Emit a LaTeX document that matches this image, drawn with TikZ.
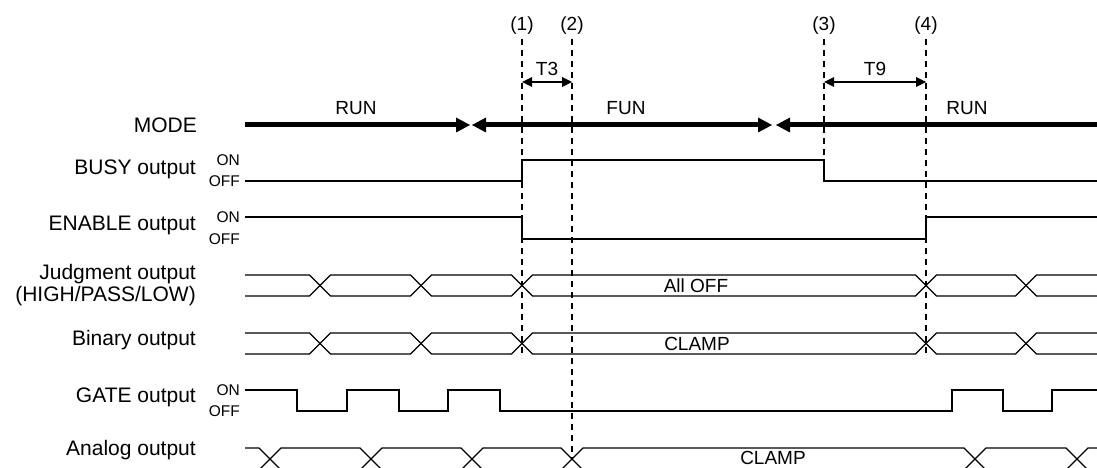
\documentclass[tikz,border=0pt]{standalone}
\usepackage{fontspec}
\setmainfont{Liberation Sans}
\usetikzlibrary{arrows.meta}
\begin{document}
\begin{tikzpicture}[x=1pt,y=-1pt,
  sig/.style={line width=1.3pt, line join=miter},
  guide/.style={line width=1.2pt, dash pattern=on 6pt off 5pt},
  mtip/.tip={Triangle[length=14pt,width=15pt,line width=0pt]},
  ttip/.tip={Triangle[length=10pt,width=10pt,line width=0pt]},
  modeline/.style={line width=5pt},
  dimline/.style={line width=1.2pt, ttip-ttip},
  rowlab/.style={anchor=east, inner sep=0pt, font=\fontsize{21}{22.5}\selectfont, align=right},
  lvl/.style={anchor=east, inner sep=0pt, font=\fontsize{15.5}{17}\selectfont},
  small/.style={inner sep=0pt, font=\fontsize{19}{21}\selectfont}
]
\useasboundingbox (0,0) rectangle (1097,468);
\clip (0,0) rectangle (1097,468);

% row labels
\node[rowlab] (lmode) at (197,125) {MODE};
\node[rowlab] (lbusy) at (196,169) {BUSY output};
\node[rowlab] (lenable) at (196,225) {ENABLE output};
\node[rowlab] (ljudg) at (196,285) {Judgment output\\(HIGH/PASS/LOW)};
\node[rowlab] (lbin) at (196,340) {Binary output};
\node[rowlab] (lgate) at (196,397) {GATE output};
\node[rowlab] (lana) at (196,450) {Analog output};

% ON/OFF labels
\node[lvl] (bon) at (240,160) {ON};
\node[lvl] (boff) at (240,181) {OFF};
\node[lvl] (eon) at (240,217) {ON};
\node[lvl] (eoff) at (240,239) {OFF};
\node[lvl] (gon) at (240,390) {ON};
\node[lvl] (goff) at (240,411) {OFF};

% time marks
\coordinate (t1) at (522,39);
\coordinate (t2) at (572,39);
\coordinate (t3) at (824,39);
\coordinate (t4) at (926,39);
\coordinate (t1e) at (522,358);
\coordinate (t2e) at (572,460);
\coordinate (t3e) at (824,160);
\coordinate (t4e) at (926,358);
\node[small] (n1) at (522,26) {(1)};
\node[small] (n2) at (572,26) {(2)};
\node[small] (n3) at (824,26) {(3)};
\node[small] (n4) at (926,26) {(4)};
\draw[guide] (t1) -- (t1e);
\draw[guide] (t2) -- (t2e);
\draw[guide] (t3) -- (t3e);
\draw[guide] (t4) -- (t4e);

% T3 / T9
\coordinate (a1) at (522,82);
\coordinate (a2) at (572,82);
\coordinate (a3) at (824,82);
\coordinate (a4) at (926,82);
\draw[dimline] (a1) -- (a2);
\draw[dimline] (a3) -- (a4);
\node[small] (lt3) at (547,69) {T3};
\node[small] (lt9) at (875,69) {T9};

% MODE
\coordinate (m0) at (245,125);
\coordinate (m1) at (470,125);
\coordinate (m2) at (472,125);
\coordinate (m3) at (772,125);
\coordinate (m4) at (776,125);
\coordinate (m5) at (1097,125);
\draw[modeline,-mtip] (m0) -- (m1);
\draw[modeline,mtip-mtip] (m2) -- (m3);
\draw[modeline,mtip-] (m4) -- (m5);
\node[small] (lrun1) at (356,108) {RUN};
\node[small] (lfun) at (626,108) {FUN};
\node[small] (lrun2) at (967,108) {RUN};

% BUSY
\draw[sig] (245,181) -- (522,181) -- (522,160) -- (824,160) -- (824,181) -- (1097,181);
% ENABLE
\draw[sig] (245,217) -- (522,217) -- (522,239) -- (926,239) -- (926,217) -- (1097,217);

% Judgment bus
\draw[sig] (245,275) -- (309.5,275) -- (330.5,296) -- (410.5,296) -- (431.5,275) -- (511.5,275) -- (532.5,296) -- (915.5,296) -- (936.5,275) -- (1015.5,275) -- (1036.5,296) -- (1097,296);
\draw[sig] (245,296) -- (309.5,296) -- (330.5,275) -- (410.5,275) -- (431.5,296) -- (511.5,296) -- (532.5,275) -- (915.5,275) -- (936.5,296) -- (1015.5,296) -- (1036.5,275) -- (1097,275);
\node[small] (alloff) at (696,286) {All OFF};

% Binary bus
\draw[sig] (245,333) -- (309.5,333) -- (330.5,354) -- (410.5,354) -- (431.5,333) -- (511.5,333) -- (532.5,354) -- (915.5,354) -- (936.5,333) -- (1015.5,333) -- (1036.5,354) -- (1097,354);
\draw[sig] (245,354) -- (309.5,354) -- (330.5,333) -- (410.5,333) -- (431.5,354) -- (511.5,354) -- (532.5,333) -- (915.5,333) -- (936.5,354) -- (1015.5,354) -- (1036.5,333) -- (1097,333);
\node[small] (clamp1) at (697,344) {CLAMP};

% GATE
\draw[sig] (245,390) -- (297,390) -- (297,411) -- (347,411) -- (347,390) -- (399,390) -- (399,411) -- (448,411) -- (448,390) -- (500,390) -- (500,411) -- (952,411) -- (952,390) -- (1003,390) -- (1003,411) -- (1052,411) -- (1052,390) -- (1097,390);

% Analog bus
\draw[sig] (245,448) -- (259,448) -- (281,470) -- (360,470) -- (382,448) -- (461,448) -- (483,470) -- (561,470) -- (583,448) -- (964,448) -- (986,470) -- (1066,470) -- (1088,448) -- (1097,448);
\draw[sig] (245,470) -- (259,470) -- (281,448) -- (360,448) -- (382,470) -- (461,470) -- (483,448) -- (561,448) -- (583,470) -- (964,470) -- (986,448) -- (1066,448) -- (1088,470) -- (1097,470);
\node[small] (clamp2) at (773,457.5) {CLAMP};
\end{tikzpicture}
\end{document}
